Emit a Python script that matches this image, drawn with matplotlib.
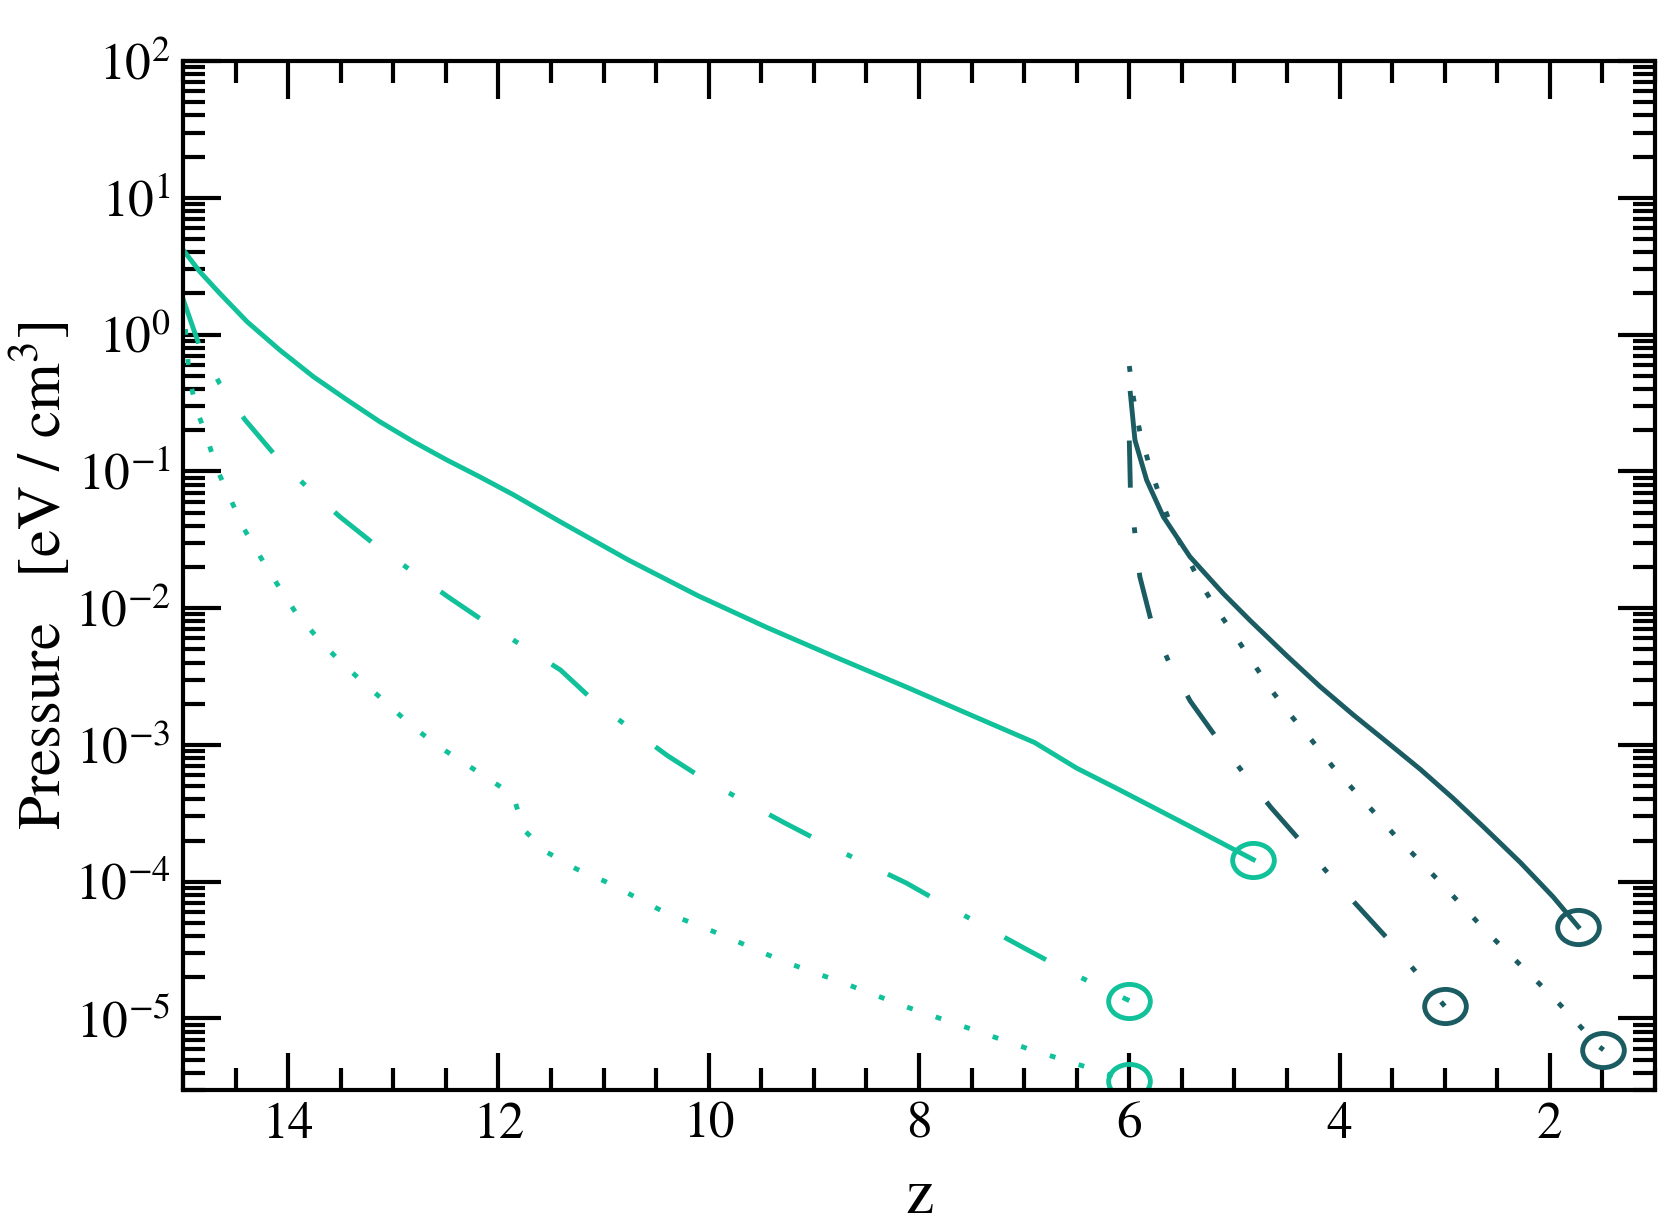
import numpy as np
import matplotlib
matplotlib.use("Agg")
import matplotlib.pyplot as plt
from matplotlib.ticker import MultipleLocator, LogLocator, NullFormatter
from matplotlib.path import Path
from matplotlib.transforms import Affine2D

# =======================
# DATA
# =======================
# light green curves, z from 15 down to ~5
z_g_solid = [15.0, 14.84, 14.65, 14.39, 14.08, 13.76, 13.44, 13.13, 12.81, 12.49,
             12.18, 11.86, 11.41, 10.76, 10.10, 9.45, 8.79, 8.14, 7.48, 6.90,
             6.50, 6.09, 5.45, 4.82]
p_g_solid = [4.17, 2.88, 2.00, 1.24, 0.771, 0.492, 0.333, 0.231, 0.165, 0.121,
             0.0914, 0.0676, 0.0427, 0.0224, 0.0123, 7.24e-3, 4.37e-3, 2.69e-3,
             1.62e-3, 1.04e-3, 6.76e-4, 4.68e-4, 2.60e-4, 1.45e-4]

z_g_dashdot = [15.0, 14.85, 14.65, 14.41, 14.12, 13.82, 13.51, 13.16, 12.48, 12.11,
               11.41, 11.07, 10.39, 10.01, 9.27, 8.87, 8.12, 7.73, 6.99, 6.60, 6.00]
p_g_dashdot = [1.82, 0.851, 0.436, 0.238, 0.130, 0.0766, 0.0467, 0.0285, 0.0121,
               7.76e-3, 3.53e-3, 2.02e-3, 8.32e-4, 5.40e-4, 2.67e-4, 1.85e-4,
               9.77e-5, 6.61e-5, 3.24e-5, 2.24e-5, 1.35e-5]

z_g_dotted = [15.0, 14.94, 14.87, 14.77, 14.68, 14.55, 14.42, 14.26, 14.10, 13.93,
              13.73, 13.52, 13.29, 13.07, 12.84, 12.59, 12.33, 12.07, 11.86, 11.76,
              11.55, 11.26, 10.98, 10.43, 9.87, 9.30, 8.72, 8.14, 7.57, 6.97, 6.39, 6.00]
p_g_dotted = [1.82, 0.479, 0.282, 0.174, 0.105, 0.0631, 0.0380, 0.0234, 0.0148, 9.33e-3,
              6.17e-3, 4.17e-3, 2.88e-3, 2.04e-3, 1.41e-3, 1.00e-3, 7.41e-4, 5.50e-4,
              4.27e-4, 2.40e-4, 1.66e-4, 1.24e-4, 1.00e-4, 6.03e-5, 4.07e-5, 2.63e-5,
              1.82e-5, 1.23e-5, 8.71e-6, 6.03e-6, 4.37e-6, 3.47e-6]

# dark teal curves, z from 6 down to ~1.5
z_d_solid = [5.99, 5.946, 5.835, 5.677, 5.424, 5.107, 4.853, 4.50, 4.19, 3.87, 3.55,
             3.23, 2.92, 2.63, 2.28, 1.97, 1.73]
p_d_solid = [0.372, 0.169, 0.0863, 0.0467, 0.0238, 0.0128, 8.15e-3, 4.47e-3, 2.69e-3,
             1.66e-3, 1.05e-3, 6.61e-4, 4.07e-4, 2.51e-4, 1.38e-4, 7.76e-5, 4.68e-5]

z_d_dashdot = [6.00, 5.99, 5.95, 5.90, 5.79, 5.62, 5.42, 5.16, 4.90, 4.65, 4.34, 4.07,
               3.79, 3.48, 3.22, 3.00]
p_d_dashdot = [0.168, 0.0759, 0.0372, 0.0170, 7.94e-3, 3.98e-3, 2.09e-3, 1.10e-3, 6.03e-4,
               3.47e-4, 1.86e-4, 1.06e-4, 6.17e-5, 3.39e-5, 1.95e-5, 1.23e-5]

z_d_dotted = [6.00, 5.96, 5.90, 5.82, 5.72, 5.61, 5.33, 5.17, 4.99, 4.82, 4.65, 4.46,
              4.26, 4.07, 3.86, 3.65, 3.45, 3.23, 3.02, 2.61, 1.95, 1.54, 1.49]
p_d_dotted = [0.589, 0.342, 0.195, 0.118, 0.0692, 0.0417, 0.0156, 9.82e-3, 6.19e-3,
              3.95e-3, 2.52e-3, 1.63e-3, 1.07e-3, 7.01e-4, 4.63e-4, 3.08e-4, 2.08e-4,
              1.40e-4, 9.48e-5, 4.37e-5, 1.38e-5, 6.31e-6, 5.89e-6]

y_decades = [1e-5, 1e-4, 1e-3, 1e-2, 1e-1, 1e0, 1e1, 1e2]

# =======================
# STYLE
# =======================
plt.rcParams["font.family"] = ["STIXGeneral", "DejaVu Serif"]
plt.rcParams["mathtext.fontset"] = "stix"

GREEN = "#10c199"
TEAL = "#1a5c62"
LW = 3.5
DOTTED = (0, (1.2, 5.0))
DASHDOT = (0, (9.7, 8.2, 1.2, 8.2))

# slightly flattened ring, like the end markers in the reference
ring = Path.unit_circle().transformed(Affine2D().scale(1.0, 0.82))

series = [
    (z_g_solid, p_g_solid, GREEN, "-"),
    (z_g_dashdot, p_g_dashdot, GREEN, DASHDOT),
    (z_g_dotted, p_g_dotted, GREEN, DOTTED),
    (z_d_solid, p_d_solid, TEAL, "-"),
    (z_d_dashdot, p_d_dashdot, TEAL, DASHDOT),
    (z_d_dotted, p_d_dotted, TEAL, DOTTED),
]

# =======================
# PLOT
# =======================
fig = plt.figure(figsize=(16.67, 12.28), dpi=100)
ax = fig.add_axes([0.1098, 0.1124, 0.8830, 0.8379])

for z, p, col, ls in series:
    ax.plot(z, p, color=col, lw=LW, linestyle=ls)
    ax.plot(z[-1], p[-1], marker=ring, ms=30, mfc="none", mec=col, mew=3.5,
            linestyle="none")

ax.set_yscale("log")
ax.set_xlim(15, 1)
ax.set_ylim(3.0e-6, 100)

ax.xaxis.set_major_locator(MultipleLocator(2))
ax.xaxis.set_minor_locator(MultipleLocator(0.5))
ax.set_yticks(y_decades)
ax.yaxis.set_minor_locator(LogLocator(base=10, subs=np.arange(2, 10), numticks=100))
ax.yaxis.set_minor_formatter(NullFormatter())

ax.tick_params(which="both", direction="in", top=True, right=True, width=3,
               labelsize=37, pad=9)
ax.tick_params(which="major", length=27)
ax.tick_params(which="minor", length=16)
for s in ax.spines.values():
    s.set_linewidth(3)

ax.set_xlabel("z", fontsize=46)
ax.xaxis.set_label_coords(0.5, -0.076)
ax.set_ylabel("Pressure   [eV / cm$^3$]", fontsize=44)
ax.yaxis.set_label_coords(-0.074, 0.5)

fig.savefig("out.png", dpi=100)
